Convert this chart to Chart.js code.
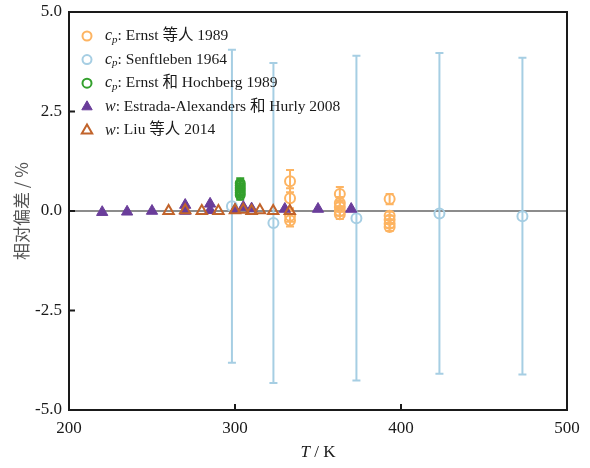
<!DOCTYPE html>
<html>
<head>
<meta charset="utf-8">
<script src="https://cdn.jsdelivr.net/npm/chart.js@4.4.1/dist/chart.umd.min.js"></script>
<style>
  body { margin: 0; background: #fff; }
  #wrap { width: 590px; height: 468px; }
</style>
</head>
<body>
<div id="wrap"><canvas id="dev"></canvas></div>
<script>
// c_p: Ernst et al. 1989
var ernstT = [333.15, 333.15, 333.15, 333.15, 363.15, 363.15, 363.15, 363.15, 363.15, 393.15, 393.15, 393.15, 393.15, 393.15];
var ernstDev = [0.75, 0.32, -0.12, -0.24, 0.43, 0.2, 0.1, 0.0, -0.08, 0.3, -0.12, -0.22, -0.32, -0.4];
var ernstErr = [0.28, 0.25, 0.15, 0.15, 0.17, 0.15, 0.12, 0.12, 0.12, 0.13, 0.1, 0.1, 0.1, 0.1];

// c_p: Senftleben 1964
var senT = [298.15, 323.15, 373.15, 423.15, 473.15];
var senDev = [0.12, -0.3, -0.18, -0.06, -0.13];
var senErr = [3.93, 4.02, 4.08, 4.03, 3.98];

// c_p: Ernst & Hochberg 1989
var hochT = [303.15, 303.15, 303.15, 303.15, 303.15, 303.15];
var hochDev = [0.4, 0.46, 0.52, 0.58, 0.64, 0.7];
var hochErr = [0.12, 0.12, 0.12, 0.12, 0.12, 0.12];

// w: Estrada-Alexanders & Hurly 2008
var estT = [220, 235, 250, 270, 270, 285, 285, 300, 305, 310, 330, 350, 370];
var estDev = [-0.03, -0.02, 0.0, 0.0, 0.15, 0.02, 0.18, 0.03, 0.1, 0.06, 0.05, 0.05, 0.05];

// w: Liu et al. 2014
var liuT = [260, 270, 280, 290, 300, 305, 310, 315, 323, 333];
var liuDev = [0.0, 0.02, 0.0, 0.0, 0.02, 0.03, 0.0, 0.02, 0.0, 0.0];

var xTicks = [200, 300, 400, 500];
var yTicks = [-5.0, -2.5, 0.0, 2.5, 5.0];

var serif = '"Liberation Serif", "Times New Roman", "Noto Sans CJK SC", serif';

function pts(xs, ys) {
    return xs.map(function (x, i) { return {x: x, y: ys[i]}; });
}

var errPlugin = {
    id: 'errbars',
    beforeDatasetDraw: function (chart, args) {
        var ds = chart.data.datasets[args.index];
        if (!ds.errs) return;
        var ctx = chart.ctx;
        var xs = chart.scales.x, ys = chart.scales.y;
        ctx.save();
        ctx.strokeStyle = ds.borderColor;
        ctx.lineWidth = 2;
        ds.data.forEach(function (p, i) {
            var px = xs.getPixelForValue(p.x);
            var top = ys.getPixelForValue(p.y + ds.errs[i]);
            var bot = ys.getPixelForValue(p.y - ds.errs[i]);
            ctx.beginPath();
            ctx.moveTo(px, top); ctx.lineTo(px, bot);
            ctx.moveTo(px - 4, top); ctx.lineTo(px + 4, top);
            ctx.moveTo(px - 4, bot); ctx.lineTo(px + 4, bot);
            ctx.stroke();
        });
        ctx.restore();
    }
};

var framePlugin = {
    id: 'frame',
    afterDraw: function (chart) {
        var ctx = chart.ctx, a = chart.chartArea;
        var xs = chart.scales.x, ys = chart.scales.y;
        ctx.save();
        ctx.strokeStyle = '#1a1a1a';
        ctx.lineWidth = 2;
        ctx.strokeRect(a.left, a.top, a.right - a.left, a.bottom - a.top);
        // inward ticks
        ctx.beginPath();
        yTicks.forEach(function (v) {
            var py = ys.getPixelForValue(v);
            ctx.moveTo(a.left, py); ctx.lineTo(a.left + 6, py);
        });
        xTicks.forEach(function (v) {
            var px = xs.getPixelForValue(v);
            ctx.moveTo(px, a.bottom); ctx.lineTo(px, a.bottom - 6);
        });
        ctx.stroke();

        // axis titles
        ctx.fillStyle = '#1a1a1a';
        ctx.textBaseline = 'middle';
        var cx = (a.left + a.right) / 2;
        ctx.font = 'italic 17px ' + serif;
        var w1 = ctx.measureText('T').width;
        ctx.font = '17px ' + serif;
        var w2 = ctx.measureText(' / K').width;
        var sx = cx - (w1 + w2) / 2;
        ctx.textAlign = 'left';
        ctx.font = 'italic 17px ' + serif;
        ctx.fillText('T', sx, 453);
        ctx.font = '17px ' + serif;
        ctx.fillText(' / K', sx + w1, 453);

        ctx.save();
        ctx.translate(22, (a.top + a.bottom) / 2);
        ctx.rotate(-Math.PI / 2);
        ctx.textAlign = 'center';
        ctx.fillStyle = '#555';
        ctx.font = '17px "Noto Sans CJK SC", sans-serif';
        ctx.fillText('相对偏差 / %', 0, 0);
        ctx.restore();

        // legend
        var rows = [
            {ds: 0, sym: 'c', sub: 'p', text: ': Ernst 等人 1989'},
            {ds: 1, sym: 'c', sub: 'p', text: ': Senftleben 1964'},
            {ds: 2, sym: 'c', sub: 'p', text: ': Ernst 和 Hochberg 1989'},
            {ds: 3, sym: 'w', sub: '', text: ': Estrada-Alexanders 和 Hurly 2008'},
            {ds: 4, sym: 'w', sub: '', text: ': Liu 等人 2014'}
        ];
        rows.forEach(function (r, i) {
            var y = 36 + i * 23.6;
            var d = chart.data.datasets[r.ds];
            ctx.save();
            ctx.strokeStyle = d.borderColor;
            ctx.fillStyle = d.backgroundColor;
            ctx.lineWidth = d.borderWidth;
            Chart.helpers.drawPoint(ctx, {pointStyle: d.pointStyle, radius: d.pointStyle === 'circle' ? 4.5 : 6, borderWidth: d.borderWidth, rotation: 0}, 87, y);
            ctx.restore();
            var x = 105;
            ctx.fillStyle = '#1a1a1a';
            ctx.textAlign = 'left';
            ctx.textBaseline = 'middle';
            ctx.font = 'italic 16px ' + serif;
            ctx.fillText(r.sym, x, y);
            x += ctx.measureText(r.sym).width;
            if (r.sub) {
                ctx.font = 'italic 11px ' + serif;
                ctx.fillText(r.sub, x, y + 4);
                x += ctx.measureText(r.sub).width;
            }
            ctx.font = '15.5px ' + serif;
            ctx.fillText(r.text, x, y);
        });
        ctx.restore();
    }
};

Chart.defaults.font.family = serif;
Chart.defaults.font.size = 17;
Chart.defaults.color = '#1a1a1a';

var ctx = document.getElementById('dev');
var myChart = new Chart(ctx, {
    type: 'scatter',
    data: {
        datasets: [{
            label: 'cp: Ernst 等人 1989',
            data: pts(ernstT, ernstDev),
            errs: ernstErr,
            pointStyle: 'circle',
            pointRadius: 5,
            borderColor: '#fdb462',
            backgroundColor: 'rgba(0,0,0,0)',
            borderWidth: 2,
            order: 4
        }, {
            label: 'cp: Senftleben 1964',
            data: pts(senT, senDev),
            errs: senErr,
            pointStyle: 'circle',
            pointRadius: 5,
            borderColor: '#a6cee3',
            backgroundColor: 'rgba(0,0,0,0)',
            borderWidth: 2,
            order: 5
        }, {
            label: 'cp: Ernst 和 Hochberg 1989',
            data: pts(hochT, hochDev),
            errs: hochErr,
            pointStyle: 'circle',
            pointRadius: 4.5,
            borderColor: '#33a02c',
            backgroundColor: 'rgba(0,0,0,0)',
            borderWidth: 2,
            order: 3
        }, {
            label: 'w: Estrada-Alexanders 和 Hurly 2008',
            data: pts(estT, estDev),
            pointStyle: 'triangle',
            pointRadius: 6.5,
            borderColor: '#6a3d9a',
            backgroundColor: '#6a3d9a',
            borderWidth: 1,
            order: 2
        }, {
            label: 'w: Liu 等人 2014',
            data: pts(liuT, liuDev),
            pointStyle: 'triangle',
            pointRadius: 6,
            borderColor: '#c1632b',
            backgroundColor: 'rgba(0,0,0,0)',
            borderWidth: 2,
            order: 1
        }, {
            label: 'zero',
            data: [{x: 200, y: 0}, {x: 500, y: 0}],
            showLine: true,
            pointRadius: 0,
            borderColor: '#8c8c8c',
            borderWidth: 2,
            order: 10
        }]
    },
    options: {
        responsive: true,
        maintainAspectRatio: false,
        animation: false,
        layout: { padding: { top: 12, right: 23, left: 0, bottom: 0 } },
        plugins: { legend: { display: false }, tooltip: { enabled: false } },
        scales: {
            x: {
                type: 'linear',
                min: 200, max: 500,
                afterFit: function (s) { s.height = 58; s.paddingLeft = 0; s.paddingRight = 0; },
                afterBuildTicks: function (s) { s.ticks = xTicks.map(function (v) { return {value: v}; }); },
                grid: { display: false, drawTicks: false },
                border: { display: false },
                ticks: { padding: 8, font: { size: 17 } }
            },
            y: {
                type: 'linear',
                min: -5, max: 5,
                afterFit: function (s) { s.width = 69; s.paddingTop = 0; s.paddingBottom = 0; },
                afterBuildTicks: function (s) { s.ticks = yTicks.map(function (v) { return {value: v}; }); },
                grid: { display: false, drawTicks: false },
                border: { display: false },
                ticks: { padding: 7, font: { size: 17 }, callback: function (v) { return v.toFixed(1); } }
            }
        }
    },
    plugins: [errPlugin, framePlugin]
});
</script>
</body>
</html>
